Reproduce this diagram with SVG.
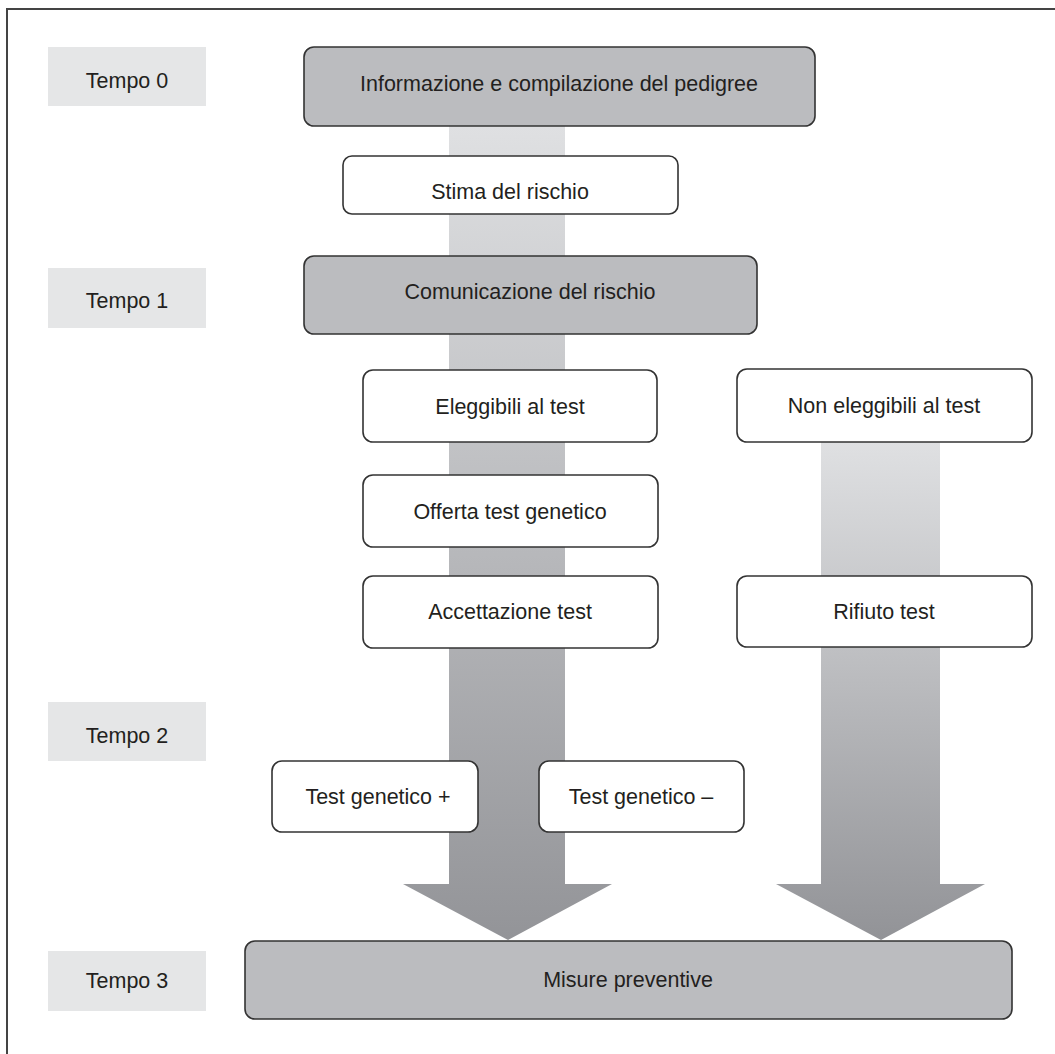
<svg xmlns="http://www.w3.org/2000/svg" width="1055" height="1054" viewBox="0 0 1055 1054">
<defs>
<linearGradient id="gL" gradientUnits="userSpaceOnUse" x1="0" y1="126" x2="0" y2="940">
<stop offset="0" stop-color="#dfe0e2"/>
<stop offset="1" stop-color="#939498"/>
</linearGradient>
<linearGradient id="gR" gradientUnits="userSpaceOnUse" x1="0" y1="442" x2="0" y2="940">
<stop offset="0" stop-color="#dfe0e2"/>
<stop offset="1" stop-color="#929397"/>
</linearGradient>
</defs>
<style>
text{font-family:"Liberation Sans",Arial,sans-serif;font-size:21.5px;fill:#231f20;text-anchor:middle}
.tempo{fill:#e5e6e7}
.dark{fill:#bbbcbf;stroke:#333;stroke-width:1.6}
.white{fill:#fff;stroke:#333;stroke-width:1.6}
</style>
<rect width="1055" height="1054" fill="#fff"/>
<path d="M7 1054 V9 H1055" fill="none" stroke="#444" stroke-width="2"/>
<g id="connectors">
<path d="M449 126 H565 V884 H612 L508 940 L403 884 H449 Z" fill="url(#gL)"/>
<path d="M821 442 H940 V884 H985 L881 940 L776 884 H821 Z" fill="url(#gR)"/>
</g>
<g id="tempo0"><rect class="tempo" x="48" y="47" width="158" height="59"/><text x="127" y="88">Tempo 0</text></g>
<g id="tempo1"><rect class="tempo" x="48" y="268" width="158" height="60"/><text x="127" y="308">Tempo 1</text></g>
<g id="tempo2"><rect class="tempo" x="48" y="702" width="158" height="59"/><text x="127" y="743">Tempo 2</text></g>
<g id="tempo3"><rect class="tempo" x="48" y="951" width="158" height="60"/><text x="127" y="988">Tempo 3</text></g>
<g id="informazione"><rect class="dark" x="304" y="47" width="511" height="79" rx="10"/><text x="559" y="91">Informazione e compilazione del pedigree</text></g>
<g id="stima"><rect class="white" x="343" y="156" width="335" height="58" rx="9"/><text x="510" y="199">Stima del rischio</text></g>
<g id="comunicazione"><rect class="dark" x="304" y="256" width="453" height="78" rx="10"/><text x="530" y="299">Comunicazione del rischio</text></g>
<g id="eleggibili"><rect class="white" x="363" y="370" width="294" height="72" rx="10"/><text x="510" y="414">Eleggibili al test</text></g>
<g id="non-eleggibili"><rect class="white" x="737" y="369" width="295" height="73" rx="10"/><text x="884" y="413">Non eleggibili al test</text></g>
<g id="offerta"><rect class="white" x="363" y="475" width="295" height="72" rx="10"/><text x="510" y="519">Offerta test genetico</text></g>
<g id="accettazione"><rect class="white" x="363" y="576" width="295" height="72" rx="10"/><text x="510" y="619">Accettazione test</text></g>
<g id="rifiuto"><rect class="white" x="737" y="576" width="295" height="71" rx="10"/><text x="884" y="619">Rifiuto test</text></g>
<g id="test-pos"><rect class="white" x="272" y="761" width="206" height="71" rx="10"/><text x="378" y="804">Test genetico +</text></g>
<g id="test-neg"><rect class="white" x="539" y="761" width="205" height="71" rx="10"/><text x="641" y="804">Test genetico –</text></g>
<g id="misure"><rect class="dark" x="245" y="941" width="767" height="78" rx="10"/><text x="628" y="987">Misure preventive</text></g>
</svg>
